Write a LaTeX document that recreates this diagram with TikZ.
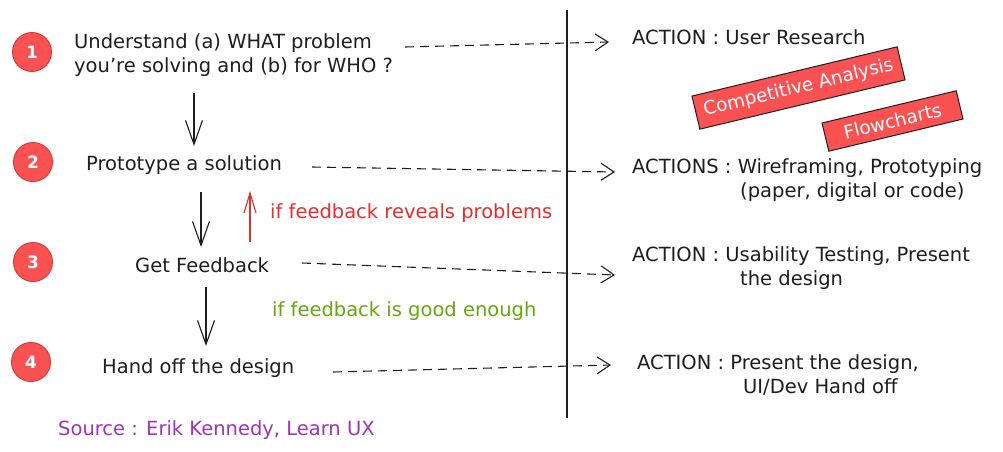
\documentclass[tikz,border=0pt]{standalone}
\usepackage{fontspec}
\setmainfont{DejaVu Sans}
\usetikzlibrary{arrows.meta}
\definecolor{cred}{HTML}{FA5252}
\definecolor{credd}{HTML}{E03131}
\definecolor{cgreen}{HTML}{66A80F}
\definecolor{cpurple}{HTML}{9C36B5}
\definecolor{ink}{HTML}{1E1E1E}
\begin{document}
\begin{tikzpicture}[x=1pt,y=-1pt,
  txt/.style={font=\fontsize{19.5}{24}\selectfont, text=ink, inner sep=0pt, anchor=west, align=left},
  num/.style={circle, fill=cred, draw=credd, line width=0.9pt, minimum size=39pt, inner sep=0pt, text=white, font=\fontsize{17}{17}\selectfont\bfseries},
  flow/.style={draw=ink, line width=1.1pt, -{Straight Barb[length=24pt,width=17pt]}},
  dasharrow/.style={draw=ink, line width=1.1pt, dash pattern=on 9pt off 6pt, -{Straight Barb[length=13pt,width=17pt]}},
  tag/.style={fill=cred, draw=ink, line width=1pt, text=white, font=\fontsize{18.5}{18.5}\selectfont, inner sep=0pt, rotate=13.5}
]
\fill[white] (0,0) rectangle (1003,452);
\useasboundingbox (0,0) rectangle (1003,452);

% numbered circles
\node[num] (n1) at (32,52) {1};
\node[num] (n2) at (33,162) {2};
\node[num] (n3) at (33,262) {3};
\node[num] (n4) at (31,362) {4};

% steps
\node[txt] (t1) at (74,55) {Understand (a) WHAT problem\\you're solving and (b) for WHO ?};
\node[txt] (t2) at (86,165) {Prototype a solution};
\node[txt] (t3) at (135,265) {Get Feedback};
\node[txt] (t4) at (102,368) {Hand off the design};

% actions
\node[txt] (a1) at (632,37) {ACTION : User Research};
\node[txt] (a2) at (632,180) {ACTIONS : Wireframing, Prototyping\\\hspace*{108pt}(paper, digital or code)};
\node[txt] (a3) at (632,268.5) {ACTION : Usability Testing, Present\\\hspace*{108pt}the design};
\node[txt] (a4) at (637,374.5) {ACTION : Present the design,\\\hspace*{106pt}UI/Dev Hand off};

% labels
\node[txt, text=credd] (lred) at (270,213) {if feedback reveals problems};
\node[txt, text=cgreen] (lgreen) at (272,311) {if feedback is good enough};
\node[txt, text=cpurple] (src) at (58,430) {Source : Erik Kennedy, Learn UX};

% tags
\node[tag, minimum width=211pt, minimum height=34pt] (tagca) at (798.5,88) {Competitive Analysis};
\node[tag, minimum width=138pt, minimum height=29pt] (tagfl) at (892.5,121) {Flowcharts};

% divider
\coordinate (vtop) at (567,10);
\coordinate (vbot) at (567,418);
\draw[ink, line width=1.3pt] (vtop) -- (vbot);

% down arrows
\coordinate (d1s) at (194,93);  \coordinate (d1e) at (194,146);
\coordinate (d2s) at (201,192); \coordinate (d2e) at (201,247);
\coordinate (d3s) at (206,287); \coordinate (d3e) at (206,346);
\draw[flow] (d1s) -- (d1e);
\draw[flow] (d2s) -- (d2e);
\draw[flow] (d3s) -- (d3e);

% feedback-back arrow
\coordinate (rs) at (250,242); \coordinate (re) at (250,191);
\draw[credd, line width=1.1pt, -{Straight Barb[length=20pt,width=12pt]}] (rs) -- (re);

% dashed arrows
\coordinate (h1s) at (405,47);  \coordinate (h1e) at (609,42);
\coordinate (h2s) at (312,167); \coordinate (h2e) at (615,172);
\coordinate (h3s) at (302,263); \coordinate (h3e) at (615,275);
\coordinate (h4s) at (333,372); \coordinate (h4e) at (611,365);
\draw[dasharrow] (h1s) -- (h1e);
\draw[dasharrow] (h2s) -- (h2e);
\draw[dasharrow] (h3s) -- (h3e);
\draw[dasharrow] (h4s) -- (h4e);
\end{tikzpicture}
\end{document}
